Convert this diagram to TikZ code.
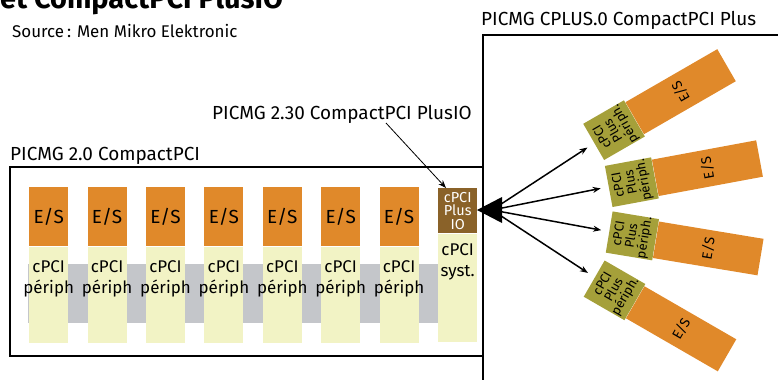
\documentclass[tikz,border=0pt]{standalone}
\usepackage{fontspec}
\setmainfont{Fira Sans}
\usetikzlibrary{positioning,arrows.meta}

\definecolor{esorange}{HTML}{E0892A}
\definecolor{cardyellow}{HTML}{F2F3C5}
\definecolor{busgray}{HTML}{C4C6CA}
\definecolor{iobrown}{HTML}{8A6229}
\definecolor{plusolive}{HTML}{A5A03A}

\tikzset{
  frame/.style={draw=black, line width=2.2bp},
  lbl/.style={inner sep=0pt, font=\fontsize{19}{19}\selectfont},
  esbox/.style={fill=esorange, minimum width=39bp, minimum height=59bp, inner sep=0pt, font=\fontsize{19}{19}\selectfont},
  perbox/.style={fill=cardyellow, minimum width=39bp, minimum height=96bp, inner sep=0pt},
  pertext/.style={anchor=north, inner sep=0pt, align=center, font=\fontsize{17}{21.5}\selectfont},
  iobox/.style={fill=iobrown, text=white, minimum width=39bp, minimum height=45bp, inner sep=0pt, align=center, font=\fontsize{14.5}{13.5}\selectfont},
  plusbox/.style={fill=plusolive, minimum width=37bp, minimum height=47bp, inner sep=0pt, align=center, anchor=north, font=\fontsize{13}{13}\selectfont},
  pluses/.style={fill=esorange, minimum width=37bp, minimum height=106bp, inner sep=0pt, anchor=north, font=\fontsize{14}{14}\selectfont},
  fan/.style={->, line width=1.5bp, shorten >=8bp},
  pointer/.style={->, line width=0.8bp},
  >={Stealth[length=8bp,width=6bp]}
}

\begin{document}
\begin{tikzpicture}[x=1bp,y=-1bp]
	\clip (0,0) rectangle (778,379);
	% title and source
	\node[inner sep=0pt, anchor=base west, font=\fontsize{29}{29}\selectfont\bfseries] (title) at (0,8) {et CompactPCI PlusIO};
	\node[inner sep=0pt, anchor=base west, font=\fontsize{17}{17}\selectfont] (source) at (12,37) {Source\,: Men Mikro Elektronic};
	% frames
	\draw[frame] (10,167) rectangle (483,356);
	\draw[frame] (483,395) rectangle (800,35);
	\node[lbl, anchor=base west] (lbl20) at (10,160) {PICMG 2.0 CompactPCI};
	\node[lbl, anchor=base west] (lbl230) at (212,119) {PICMG 2.30 CompactPCI PlusIO};
	\node[lbl, anchor=base west] (lblplus) at (481,25) {PICMG CPLUS.0 CompactPCI Plus};
	% backplane
	\fill[busgray] (28,264) rectangle (438,323);
	% peripheral cards
	\foreach \i in {1,...,7}{
		\node[esbox, anchor=north west] (es\i) at ({29+58.4*(\i-1)},187) {E/S};
		\node[perbox, below=0pt of es\i, label={[pertext, yshift=-14bp]north:{cPCI\\périph}}] (per\i) {};
	}
	% system card
	\node[iobox, anchor=north west] (io) at (438,188) {cPCI\\Plus\\IO};
	\node[perbox, minimum height=108bp, below=0pt of io, label={[pertext, yshift=-10bp]north:{cPCI\\syst.}}] (syst) {};
	\coordinate (from230) at (386,123);
	\draw[pointer] (from230) -- ([xshift=8bp]io.north west);
	% hub
	\coordinate (tip) at (477,210);
	\coordinate (hub) at (492,210);
	\fill (tip) -- ++(25,-13) -- ++(0,26) -- cycle;
	% CompactPCI Plus cards
	\foreach \n/\x/\y/\a in {1/593.5/142/30, 2/608.5/186.5/10.5, 3/609/232/-9.4, 4/594/278.5/-30}{
		\node[plusbox, rotate=\a+90] (plus\n) at (\x,\y) {cPCI\\Plus\\périph.};
		\node[pluses, rotate=\a+90] (plses\n) at (plus\n.south) {E/S};
		\draw[fan] (hub) -- (plus\n);
	}
\end{tikzpicture}
\end{document}
